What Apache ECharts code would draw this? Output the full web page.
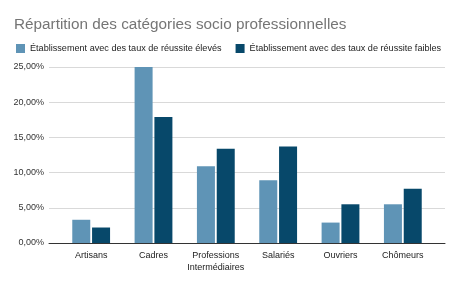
<!DOCTYPE html>
<html>
<head>
<meta charset="utf-8">
<script src="https://cdn.jsdelivr.net/npm/echarts@6/dist/echarts.min.js"></script>
<style>
  html, body { margin: 0; padding: 0; background: #fff; }
  #chart { width: 460px; height: 284px; }
</style>
</head>
<body>
<div id="chart"></div>
<script>
// ============ Répartition des catégories socio professionnelles ============
const categories = ['Artisans', 'Cadres', 'Professions\nIntermédiaires', 'Salariés', 'Ouvriers', 'Chômeurs'];
const seriesNames = ['Établissement avec des taux de réussite élevés', 'Établissement avec des taux de réussite faibles'];
const highRates = [3.3, 25.0, 10.9, 8.9, 2.9, 5.5];
const lowRates = [2.2, 17.9, 13.4, 13.7, 5.5, 7.7];
const yTicks = [0, 5, 10, 15, 20, 25];

const colors = ['#5f94b6', '#07486a'];
const font = 'Liberation Sans, Arial, sans-serif';
const yMin = yTicks[0];
const yMax = yTicks[yTicks.length - 1];

const chart = echarts.init(document.getElementById('chart'));
chart.setOption({
  animation: false,
  textStyle: { fontFamily: font },
  title: {
    text: 'Répartition des catégories socio professionnelles',
    left: 9, top: 12,
    textStyle: { fontSize: 15.3, fontWeight: 'normal', color: '#757575', fontFamily: font },
  },
  legend: {
    data: seriesNames,
    left: 11, top: 39, width: 445,
    itemWidth: 9, itemHeight: 9, itemGap: 14,
    icon: 'rect',
    textStyle: { fontSize: 9.1, color: '#222', fontFamily: font },
  },
  // grid 0 : fond (grille, axe Y) ; grid 1 : barres, avec marge intérieure
  grid: [
    { left: 49, right: 15, top: 67, bottom: 41 },
    { left: 60, right: 26, top: 67, bottom: 41 },
  ],
  xAxis: [
    {
      gridIndex: 0, type: 'category', data: [''],
      axisTick: { show: false },
      axisLabel: { show: false },
      axisLine: { lineStyle: { color: '#333', width: 1 } },
    },
    {
      gridIndex: 1, type: 'category', data: categories,
      axisTick: { show: false },
      axisLine: { show: false },
      axisLabel: { interval: 0, fontSize: 9, color: '#222', margin: 7, lineHeight: 12, fontFamily: font },
    },
  ],
  yAxis: [
    {
      gridIndex: 0, type: 'value', min: yMin, max: yMax, interval: 5,
      axisLabel: {
        fontSize: 9, color: '#333', margin: 5, fontFamily: font,
        formatter: v => v.toFixed(2).replace('.', ',') + '%',
      },
      splitLine: { lineStyle: { color: '#d9d9d9' } },
    },
    {
      gridIndex: 1, type: 'value', min: yMin, max: yMax, interval: 5,
      axisLabel: { show: false },
      splitLine: { show: false },
    },
  ],
  series: [
    { name: seriesNames[0], type: 'bar', xAxisIndex: 1, yAxisIndex: 1, data: highRates, barWidth: 18, barGap: '10%', itemStyle: { color: colors[0] } },
    { name: seriesNames[1], type: 'bar', xAxisIndex: 1, yAxisIndex: 1, data: lowRates, barWidth: 18, barGap: '10%', itemStyle: { color: colors[1] } },
  ],
});
</script>
</body>
</html>
